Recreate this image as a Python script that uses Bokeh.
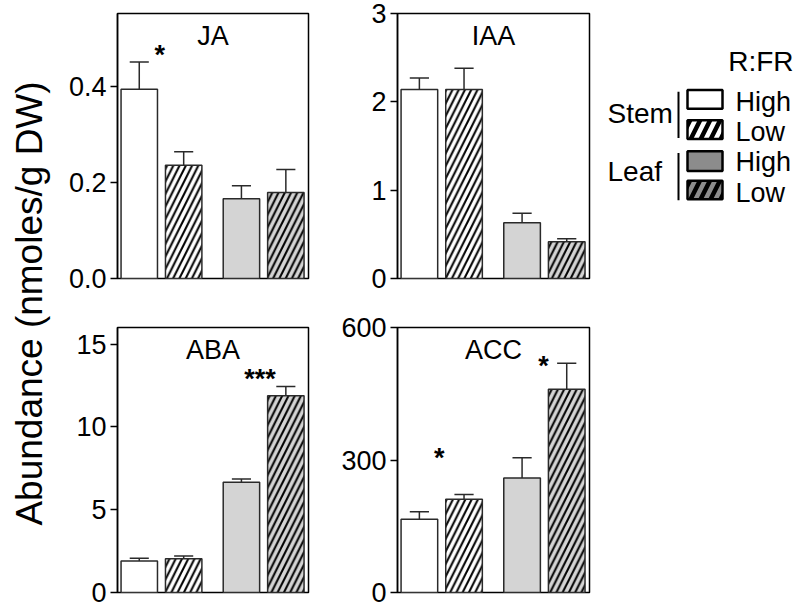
import math
from bokeh.plotting import figure
from bokeh.layouts import row, column
from bokeh.models import Range1d, FixedTicker, PrintfTickFormatter, Label, ColumnDataSource
from bokeh.core.properties import value
from bokeh.embed import file_html
from bokeh.resources import INLINE

FONT = "Liberation Sans"

# ---- data ----
tissue = ["Stem", "Stem", "Leaf", "Leaf"]
rfr = ["High", "Low", "High", "Low"]

ja_mean = [0.394, 0.236, 0.166, 0.179]
ja_se = [0.057, 0.028, 0.027, 0.048]
iaa_mean = [2.14, 2.14, 0.63, 0.416]
iaa_se = [0.13, 0.24, 0.11, 0.035]
aba_mean = [1.9, 2.04, 6.65, 11.88]
aba_se = [0.17, 0.16, 0.20, 0.56]
acc_mean = [166, 211, 259, 460]
acc_se = [17, 11, 46, 59]

ja_ticks = [0.0, 0.2, 0.4]
iaa_ticks = [0, 1, 2, 3]
aba_ticks = [0, 5, 10, 15]
acc_ticks = [0, 300, 600]

y_limits = {"JA": 0.552, "IAA": 3.0, "ABA": 16.0, "ACC": 600.0}

# significance marks: text, x (bar-axis units), y (data units)
ja_sig = (["*"], [0.46], [0.466])
iaa_sig = ([], [], [])
aba_sig = (["***"], [2.72], [12.9])
acc_sig = (["*", "*"], [0.445, 2.78], [305, 512])

ylabel = "Abundance (nmoles/g DW)"
legend_title = "R:FR"
legend_groups = ["Stem", "Leaf"]
legend_levels = ["High", "Low"]

STEM_FILL = "white"
LEAF_FILL = "#d4d4d4"
LEG_GRAY = "#8c8c8c"
EDGE = "#2a2a2a"


def bare(w, h):
    f = figure(width=w, height=h, title=None, x_range=Range1d(0, w), y_range=Range1d(0, h),
               output_backend="svg", toolbar_location=None,
               x_axis_location=None, y_axis_location=None,
               min_border_left=0, min_border_right=0, min_border_top=0, min_border_bottom=0)
    f.outline_line_color = None
    f.xgrid.visible = False
    f.ygrid.visible = False
    return f


def panel(name, means, ses, ticks, sig, width, height, bl, br, bt, bb, fmt=None):
    ymax = y_limits[name]
    xs = []
    g = 0
    for i, t in enumerate(tissue):
        if i > 0 and t != tissue[i - 1]:
            g += 1
        xs.append(i + 0.3 * g)
    p = figure(width=width, height=height, title=None,
               x_range=Range1d(-0.49, 3.81), y_range=Range1d(0, ymax),
               output_backend="svg", toolbar_location=None,
               x_axis_location=None,
               min_border_left=bl, min_border_right=br,
               min_border_top=bt, min_border_bottom=bb)
    p.xgrid.visible = False
    p.ygrid.visible = False
    p.outline_line_color = "black"
    p.outline_line_width = 1.5
    p.outline_line_alpha = 1.0

    fills = [STEM_FILL if t == "Stem" else LEAF_FILL for t in tissue]
    hatches = [" " if r == "High" else "/" for r in rfr]
    up = [m + s for m, s in zip(means, ses)]
    src = ColumnDataSource(dict(x=xs, top=means, fill=fills, hatch=hatches, up=up,
                                xl=[x - 0.215 for x in xs], xr=[x + 0.215 for x in xs]))
    p.segment(x0="x", y0="top", x1="x", y1="up", source=src,
              line_color=EDGE, line_width=1.5)
    p.segment(x0="xl", y0="up", x1="xr", y1="up", source=src,
              line_color=EDGE, line_width=1.5)
    p.vbar(x="x", top="top", bottom=0, width=0.82, source=src,
           fill_color="fill", hatch_pattern="hatch", hatch_color="black",
           hatch_weight=2, hatch_scale=12.5,
           line_color=EDGE, line_width=1.5)

    p.add_layout(Label(x=1.66, y=ymax * (1 - 22 / 265), text=name,
                       text_align="center", text_baseline="middle",
                       text_font=FONT, text_font_size="27px", text_color="black"))
    if sig[0]:
        p.text(x=sig[1], y=sig[2], text=sig[0], text_font=value(FONT),
               text_font_style="bold", text_font_size="27px",
               text_align="center", text_baseline="middle", text_color="black")

    ax = p.yaxis[0]
    ax.ticker = FixedTicker(ticks=ticks)
    if fmt:
        ax.formatter = PrintfTickFormatter(format=fmt)
    ax.major_label_text_font = FONT
    ax.major_label_text_font_size = "27px"
    ax.major_label_text_color = "black"
    ax.major_tick_out = 7
    ax.major_tick_in = 0
    ax.minor_tick_out = 0
    ax.minor_tick_in = 0
    ax.axis_line_width = 1.5
    ax.axis_line_color = "black"
    ax.major_tick_line_width = 1.5
    ax.major_tick_line_color = "black"
    ax.major_label_standoff = 4
    return p


p_ja = panel("JA", ja_mean, ja_se, ja_ticks, ja_sig, 260, 298, 59, 10, 13, 20, fmt="%.1f")
p_iaa = panel("IAA", iaa_mean, iaa_se, iaa_ticks, iaa_sig, 276, 298, 79, 5, 13, 20)
p_aba = panel("ABA", aba_mean, aba_se, aba_ticks, aba_sig, 260, 307, 59, 10, 29, 13)
p_acc = panel("ACC", acc_mean, acc_se, acc_ticks, acc_sig, 276, 307, 79, 5, 29, 13)

# ---- y label ----
YW, YH = 58, 605
p_lab = bare(YW, YH)
p_lab.text(x=[29], y=[YH - 303], text=[ylabel], angle=math.pi / 2,
           text_font=value(FONT), text_font_size="37px", text_color="black",
           text_align="center", text_baseline="middle")

# ---- legend (layout in panel pixels, y measured from the panel top) ----
LW, LH = 203, 298
p_leg = bare(LW, LH)
p_leg.text(x=[199], y=[LH - 54], text=[legend_title], text_font=value(FONT),
           text_font_size="28px", text_color="black", text_align="right",
           text_baseline="middle")

box_rows = [[(86, 107), (120, 141)], [(155, 177), (188, 209)]]
text_mid = [[100, 133], [167, 202]]
line_span = [(88, 140), (157, 210)]
group_mid = [113, 178]
bx0, bx1, tx, gx, lx = 93, 128, 141, 13, 84
for gi, gname in enumerate(legend_groups):
    fill = "white" if gname == "Stem" else LEG_GRAY
    for li, lev in enumerate(legend_levels):
        t, b = box_rows[gi][li]
        p_leg.quad(left=bx0, right=bx1, top=LH - t, bottom=LH - b, fill_color=fill,
                   hatch_pattern=" " if lev == "High" else "/", hatch_color="black",
                   hatch_weight=4.5, hatch_scale=20, line_color="black", line_width=2.5)
        p_leg.text(x=[tx], y=[LH - text_mid[gi][li]], text=[lev], text_font=value(FONT),
                   text_font_size="27px", text_color="black", text_align="left",
                   text_baseline="middle")
    p_leg.segment(x0=[lx], y0=[LH - line_span[gi][0]], x1=[lx],
                  y1=[LH - line_span[gi][1]], line_color="black", line_width=2)
    p_leg.text(x=[gx], y=[LH - group_mid[gi]], text=[gname], text_font=value(FONT),
               text_font_size="28px", text_color="black", text_align="left",
               text_baseline="middle")

layout = row(p_lab, column(row(p_ja, p_iaa, p_leg), row(p_aba, p_acc)))

with open("out.html", "w") as f:
    f.write(file_html(layout, INLINE))
